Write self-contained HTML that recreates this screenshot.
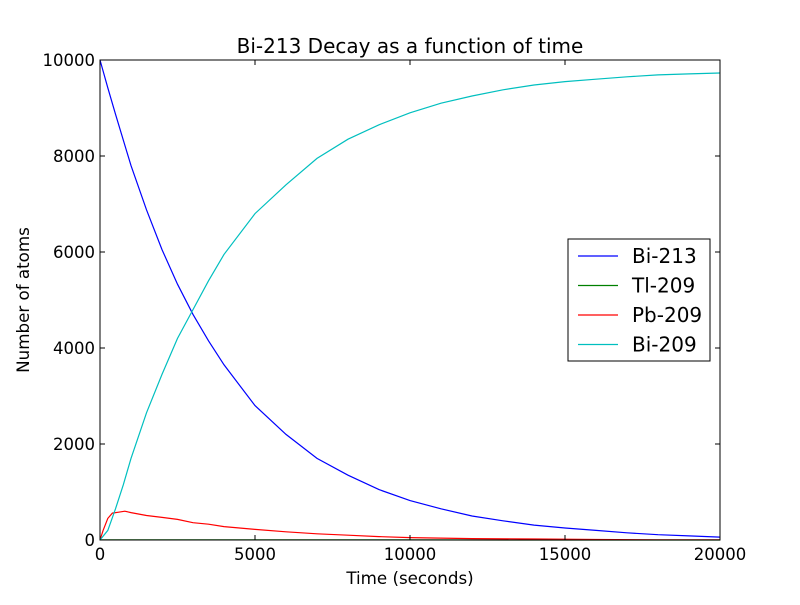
<!DOCTYPE html>
<html><head><meta charset="utf-8"><style>
body{margin:0;background:#fff;}
svg text{font-family:"DejaVu Sans","Liberation Sans",sans-serif;}
</style></head><body>
<svg id="c" width="800" height="600"></svg>
<script>
const bi213X=[0,250,500,1000,1500,2000,2500,3000,3500,4000,5000,6000,7000,8000,9000,10000,11000,12000,13000,14000,15000,16000,17000,18000,19000,20000];
const bi213Y=[10000,9420,8870,7800,6880,6050,5330,4700,4150,3650,2800,2200,1700,1350,1050,820,650,500,400,310,250,200,150,110,85,60];
const bi209X=[0,250,500,750,1000,1500,2000,2500,3000,3500,4000,5000,6000,7000,8000,9000,10000,11000,12000,13000,14000,15000,16000,17000,18000,19000,20000];
const bi209Y=[0,200,650,1150,1700,2650,3450,4200,4800,5400,5950,6800,7400,7950,8350,8650,8900,9100,9250,9380,9480,9550,9600,9650,9690,9710,9730];
const pb209X=[0,100,250,400,600,800,1000,1500,2000,2500,3000,3500,4000,5000,6000,7000,8000,9000,10000,12000,14000,16000,18000,20000];
const pb209Y=[0,200,450,560,580,600,570,510,470,430,360,330,280,220,170,130,100,70,50,30,20,10,5,5];
const tl209X=[0,5000,10000,15000,20000];
const tl209Y=[5,3,2,1,0];
const xTicks=[0,5000,10000,15000,20000];
const yTicks=[0,2000,4000,6000,8000,10000];
const series=[["Bi-213",bi213X,bi213Y,"#0000ff"],["Tl-209",tl209X,tl209Y,"#008000"],["Pb-209",pb209X,pb209Y,"#ff0000"],["Bi-209",bi209X,bi209Y,"#00bfbf"]];
const L=100,R=720,T=60,B=540;
const sx=v=>L+(v-0)/20000*(R-L), sy=v=>B-v/10000*(B-T);
const svg=document.getElementById('c');const NS='http://www.w3.org/2000/svg';
function mk(t,a,p){const e=document.createElementNS(NS,t);for(const k in a)e.setAttribute(k,a[k]);(p||svg).appendChild(e);return e;}
series.forEach(s=>{const d=s[1].map((x,i)=>(i?'L':'M')+sx(x).toFixed(1)+','+sy(s[2][i]).toFixed(1)).join('');
 const p=mk('path',{d:d,fill:'none',stroke:s[3],'stroke-width':1.2});
 
 });
const fr=mk('rect',{x:L,y:T,width:R-L,height:B-T,fill:'none',stroke:'#000'});


xTicks.forEach(v=>{const x=sx(v);mk('line',{x1:x,x2:x,y1:B,y2:B-5,stroke:'#000'});mk('line',{x1:x,x2:x,y1:T,y2:T+5,stroke:'#000'});
 const t=mk('text',{x:x,y:B+20,'text-anchor':'middle','font-size':16.5});t.textContent=v;
 
 });
yTicks.forEach(v=>{const y=sy(v);mk('line',{x1:L,x2:L+5,y1:y,y2:y,stroke:'#000'});mk('line',{x1:R,x2:R-5,y1:y,y2:y,stroke:'#000'});
 const t=mk('text',{x:L-5,y:y+6,'text-anchor':'end','font-size':16.5});t.textContent=v;
 
 });
const ti=mk('text',{x:410,y:53,'text-anchor':'middle','font-size':20});ti.textContent='Bi-213 Decay as a function of time';


const xl=mk('text',{x:410,y:584,'text-anchor':'middle','font-size':16.7});xl.textContent='Time (seconds)';


const yl=mk('text',{x:29,y:300,'text-anchor':'middle','font-size':16.7,transform:'rotate(-90 29 300)'});yl.textContent='Number of atoms';


const lg=mk('g',{});


mk('rect',{x:568,y:239,width:142,height:122,fill:'#fff',stroke:'#000'},lg);
series.forEach((s,i)=>{const y=256+i*29.5;mk('line',{x1:578,x2:618,y1:y,y2:y,stroke:s[3],'stroke-width':1.2},lg);
 const t=mk('text',{x:632,y:y+7,'font-size':20},lg);t.textContent=s[0];
 
 });
</script></body></html>
